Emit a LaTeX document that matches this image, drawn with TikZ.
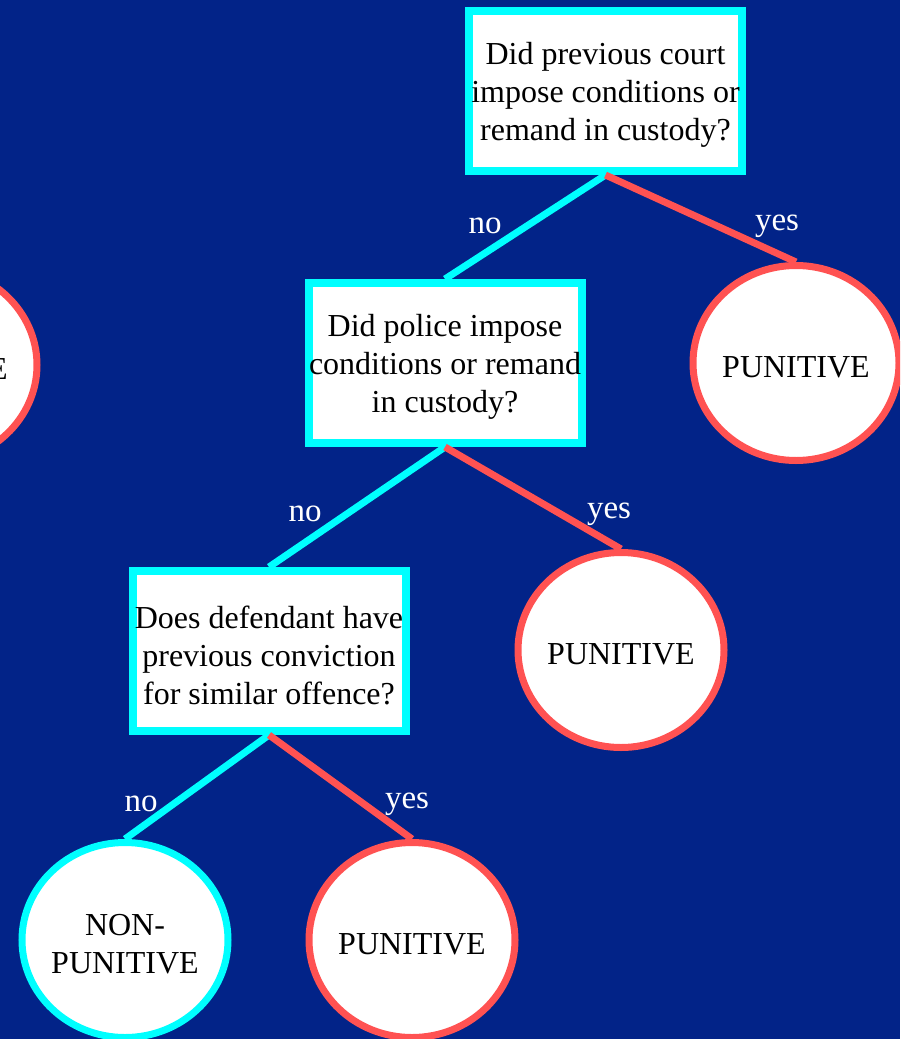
\documentclass[tikz,border=0pt]{standalone}
\usepackage{fontspec}
\setmainfont{Liberation Serif}
\usetikzlibrary{shapes.geometric}
\definecolor{bg}{HTML}{022388}
\definecolor{cy}{HTML}{00FFFF}
\definecolor{rd}{HTML}{FF5252}
\tikzset{
  txt/.style={inner sep=0pt, align=center, font=\fontsize{32}{38}\selectfont, yshift=-4pt},
  qbox/.style={draw=cy, line width=8pt, fill=white, minimum width=273pt, minimum height=160pt, inner sep=0pt},
  pun/.style={ellipse, draw=rd, line width=7pt, fill=white, minimum width=206pt, minimum height=195pt, inner sep=0pt},
  npun/.style={pun, draw=cy},
  cyline/.style={draw=cy, line width=7pt},
  rdline/.style={draw=rd, line width=7pt},
  lbl/.style={text=white, font=\fontsize{33}{36}\selectfont, inner sep=0pt}
}
\begin{document}
\begin{tikzpicture}[x=1pt,y=-1pt]
\fill[bg] (0,0) rectangle (900,1039);
\useasboundingbox (0,0) rectangle (900,1039);
\begin{scope}
\clip (0,0) rectangle (900,1039);
\node[qbox, label={[txt]center:Did previous court\\impose conditions or\\remand in custody?}] (q1) at (605.5,91) {};
\node[qbox, label={[txt]center:Did police impose\\conditions or remand\\in custody?}] (q2) at (445,363) {};
\node[qbox, label={[txt]center:Does defendant have\\previous conviction\\for similar offence?}] (q3) at (269,651) {};
\node[pun, label={[txt]center:PUNITIVE}] (p0) at (-66,365) {};
\node[pun, label={[txt]center:PUNITIVE}] (p1) at (796,363) {};
\node[pun, label={[txt]center:PUNITIVE}] (p2) at (621,650) {};
\node[pun, label={[txt]center:PUNITIVE}] (p3) at (412,940) {};
\node[npun, label={[txt]center:NON-\\PUNITIVE}] (n3) at (125,940) {};
\draw[cyline] (q1.south) -- (q2.north);
\draw[rdline] (q1.south) -- (p1.north);
\draw[cyline] (q2.south) -- (q3.north);
\draw[rdline] (q2.south) -- (p2.north);
\draw[cyline] (q3.south) -- (n3.north);
\draw[rdline] (q3.south) -- (p3.north);
\node[lbl] (l1) at (485,226) {no};
\node[lbl] (l2) at (777,226) {yes};
\node[lbl] (l3) at (305,514) {no};
\node[lbl] (l4) at (609,514) {yes};
\node[lbl] (l5) at (141,804) {no};
\node[lbl] (l6) at (407,804) {yes};
\end{scope}
\end{tikzpicture}
\end{document}
